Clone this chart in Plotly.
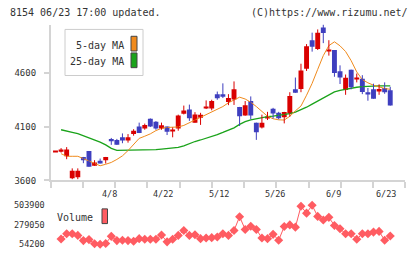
import plotly.graph_objects as go

# ---------------- data ----------------
opens  = [3870, 3867, 3824, 3621, 3630, 3818, 3873, 3736, 3782, 3788,
          3985, 3975, 4000, 3970, 4030, 4100, 4082, 4173, 4145, 4082,
          4100, 4055, 4082, 4218, 4257, 4136, 4182, 4273, 4267, 4400,
          4400, 4327, 4351, 4282, 4203, 4336, 4136, 4091, 4176, 4264,
          4227, 4185, 4221, 4445, 4448, 4636, 4900, 4818, 5018, 4797,
          4809, 4612, 4439, 4627, 4539, 4542, 4418, 4445, 4433, 4457,
          4436]
highs  = [3870, 3900, 3909, 3712, 3712, 3818, 3873, 3788, 3803, 3818,
          3994, 3985, 4036, 4030, 4075, 4136, 4127, 4175, 4150, 4136,
          4100, 4091, 4210, 4294, 4303, 4233, 4227, 4342, 4348, 4424,
          4500, 4400, 4518, 4282, 4336, 4379, 4136, 4210, 4236, 4273,
          4236, 4236, 4418, 4554, 4682, 4864, 4970, 5000, 5045, 4900,
          4809, 4667, 4582, 4627, 4591, 4576, 4457, 4497, 4491, 4509,
          4468]
lows   = [3870, 3858, 3797, 3612, 3612, 3760, 3727, 3736, 3757, 3757,
          3930, 3930, 3945, 3950, 4015, 4039, 4070, 4095, 4070, 4070,
          4021, 4000, 4061, 4212, 4152, 4136, 4115, 4262, 4250, 4348,
          4364, 4298, 4300, 4105, 4200, 4168, 3976, 4082, 4160, 4174,
          4167, 4129, 4191, 4412, 4418, 4615, 4794, 4809, 4873, 4757,
          4561, 4494, 4394, 4445, 4509, 4400, 4339, 4358, 4394, 4403,
          4294]
closes = [3870, 3888, 3888, 3691, 3691, 3788, 3727, 3766, 3757, 3818,
          3964, 3930, 3970, 4000, 4061, 4039, 4115, 4100, 4082, 4112,
          4052, 4070, 4203, 4248, 4176, 4212, 4209, 4279, 4336, 4361,
          4376, 4364, 4445, 4196, 4297, 4203, 4046, 4136, 4191, 4221,
          4176, 4234, 4382, 4413, 4620, 4845, 4839, 4970, 4967, 4809,
          4597, 4554, 4551, 4464, 4554, 4421, 4403, 4358, 4448, 4418,
          4294]

ma5 = [None, 3848, 3824, 3824, 3824, 3803, 3780, 3760, 3736, 3750,
       3767, 3795, 3828, 3877, 3935, 3990, 4010, 4032, 4062, 4083,
       4091, 4093, 4096, 4110, 4135, 4160, 4190, 4210, 4235, 4260,
       4285, 4320, 4350, 4372, 4355, 4325, 4285, 4240, 4195, 4172,
       4162, 4160, 4195, 4245, 4290, 4390, 4500, 4630, 4757, 4850,
       4885, 4848, 4795, 4710, 4606, 4535, 4505, 4483, 4465, 4452,
       4445]
ma25 = [None, 4070, 4055, 4045, 4033, 4015, 3997, 3979, 3955, 3930,
        3897, 3879, 3879, 3879, 3879, 3879, 3879, 3882, 3885, 3890,
        3894, 3897, 3906, 3921, 3942, 3961, 3975, 3990, 4003, 4025,
        4045, 4066, 4088, 4120, 4145, 4162, 4174, 4185, 4192, 4197,
        4204, 4210, 4219, 4234, 4255, 4279, 4307, 4336, 4367, 4396,
        4421, 4436, 4446, 4457, 4464, 4469, 4473, 4474, 4476, 4476,
        4476]

volume = [None, 115000, 175000, 175000, 156000, 96000, 107000, 60000, 54200, 62000,
          145000, 96000, 100000, 96000, 88000, 118000, 111000, 111000, 111000, 160000,
          81000, 111000, 156000, 213000, 156000, 164000, 118000, 126000, 130000, 137000,
          175000, 156000, 213000, 372000, 224000, 262000, 224000, 126000, 118000, 168000,
          100000, 258000, 277000, 251000, 492000, 413000, 503900, 375000, 334000, 364000,
          270000, 232000, 175000, 175000, 111000, 175000, 175000, 194000, 202000, 100000,
          149000]

date_labels = ["4/8", "4/22", "5/12", "5/26", "6/9", "6/23"]
date_label_idx = [10, 20, 30, 40, 50, 60]
price_ticks = [3600, 4100, 4600]
vol_ticks = [54200, 279050, 503900]

# ---------------- styling ----------------
W, H = 420, 259
UP, DOWN = "#d90000", "#3f3fbf"
ORANGE, GREEN = "#f08a1c", "#1aa31a"
VOLC = "#ff5c62"
TXT = "#333333"
AXC = "#d4d4d4"
FONT = "DejaVu Sans Mono"

n = len(opens)
idx = list(range(n))
xr = [-0.86, 62.7]

def px_x(X):
    return X / W

def px_y(Y):
    return 1 - Y / H

price_rng = [3600, 5045.5]
price_per_px = (price_rng[1] - price_rng[0]) / (184 - 25)

fig = go.Figure()

# moving averages
fig.add_trace(go.Scatter(x=idx, y=ma25, mode="lines", line=dict(color=GREEN, width=1.3),
                         hoverinfo="skip", showlegend=False, xaxis="x", yaxis="y"))
fig.add_trace(go.Scatter(x=idx, y=ma5, mode="lines", line=dict(color=ORANGE, width=1.0),
                         hoverinfo="skip", showlegend=False, xaxis="x", yaxis="y"))

# candles: wicks + bodies
for color, is_up in ((UP, True), (DOWN, False)):
    wx, wy = [], []
    bx, bb, bh = [], [], []
    for i in idx:
        up = closes[i] >= opens[i]
        if up != is_up:
            continue
        wx += [i, i, None]
        wy += [lows[i], highs[i], None]
        lo = min(opens[i], closes[i])
        hgt = abs(closes[i] - opens[i])
        if hgt < price_per_px:
            lo = lo - price_per_px / 2
            hgt = price_per_px
        bx.append(i); bb.append(lo); bh.append(hgt)
    fig.add_trace(go.Scatter(x=wx, y=wy, mode="lines", line=dict(color=color, width=1),
                             hoverinfo="skip", showlegend=False, xaxis="x", yaxis="y"))
    fig.add_trace(go.Bar(x=bx, y=bh, base=bb, width=0.88, marker=dict(color=color, line=dict(width=0)),
                         hoverinfo="skip", showlegend=False, xaxis="x", yaxis="y"))

# volume
fig.add_trace(go.Scatter(x=idx, y=volume, mode="lines+markers",
                         line=dict(color=VOLC, width=1),
                         marker=dict(symbol="diamond", size=7, color=VOLC),
                         hoverinfo="skip", showlegend=False, xaxis="x2", yaxis="y2"))

# volume axis range
vol_per_px = (vol_ticks[2] - vol_ticks[0]) / (249 - 209.3)
vol_rng = [vol_ticks[0] - (255 - 249) * vol_per_px, vol_ticks[2] + (209.3 - 200) * vol_per_px]

dom_x = [px_x(50.7), px_x(405.3)]
n_div = 11
xtick_pos = [xr[0] + (xr[1] - xr[0]) * k / n_div for k in range(n_div + 1)]

fig.update_layout(
    width=W, height=H, margin=dict(l=0, r=0, t=0, b=0),
    paper_bgcolor="white", plot_bgcolor="white",
    barmode="overlay", showlegend=False,
    font=dict(family=FONT, color=TXT, size=9),
    xaxis=dict(domain=dom_x, range=xr, anchor="y", showgrid=False, zeroline=False,
               showline=True, linecolor=AXC, linewidth=1.5,
               tickvals=xtick_pos, ticktext=[""] * len(xtick_pos),
               ticks="outside", ticklen=6, tickcolor=AXC, tickwidth=1.5),
    yaxis=dict(domain=[px_y(184), px_y(25)], range=price_rng, anchor="x", showgrid=False, zeroline=False,
               showline=True, linecolor=AXC, linewidth=1.5,
               tickvals=price_ticks, ticktext=[str(v) for v in price_ticks],
               ticks="outside", ticklen=5, tickcolor=AXC, tickwidth=1.5,
               ticklabelstandoff=6, tickfont=dict(size=9, family=FONT, color=TXT)),
    xaxis2=dict(domain=dom_x, range=xr, anchor="y2", visible=False),
    yaxis2=dict(domain=[px_y(255), px_y(200)], range=vol_rng, anchor="x2", showgrid=False,
                zeroline=False, showline=False, ticks="",
                tickvals=vol_ticks, ticktext=[str(v) for v in vol_ticks],
                ticklabelstandoff=5, tickfont=dict(size=8.5, family=FONT, color=TXT)),
)

ann = []
ann.append(dict(text="8154 06/23 17:00 updated.", x=px_x(8), y=px_y(13), xref="paper", yref="paper",
                xanchor="left", yanchor="middle", showarrow=False, font=dict(size=10, family=FONT, color=TXT)))
ann.append(dict(text="(C)https://www.rizumu.net/", x=px_x(410), y=px_y(13), xref="paper", yref="paper",
                xanchor="right", yanchor="middle", showarrow=False, font=dict(size=10, family=FONT, color=TXT)))
for lab, k in zip(date_labels, date_label_idx):
    ann.append(dict(text=lab, x=k + 1.45, y=px_y(198), xref="x", yref="paper",
                    xanchor="right", yanchor="middle", showarrow=False,
                    font=dict(size=8.5, family=FONT, color=TXT)))
# legend texts
ann.append(dict(text="5-day MA", x=px_x(126), y=px_y(46), xref="paper", yref="paper",
                xanchor="right", yanchor="middle", showarrow=False, font=dict(size=10, family=FONT, color=TXT)))
ann.append(dict(text="25-day MA", x=px_x(126), y=px_y(63), xref="paper", yref="paper",
                xanchor="right", yanchor="middle", showarrow=False, font=dict(size=10, family=FONT, color=TXT)))
ann.append(dict(text="Volume", x=px_x(95), y=px_y(222), xref="paper", yref="paper",
                xanchor="right", yanchor="middle", showarrow=False, font=dict(size=10, family=FONT, color=TXT)))

shapes = []
shapes.append(dict(type="rect", xref="paper", yref="paper", x0=px_x(65), x1=px_x(143), y0=px_y(77), y1=px_y(30),
                   line=dict(color="#cccccc", width=1), fillcolor="white", layer="above"))
shapes.append(dict(type="rect", xref="paper", yref="paper", x0=px_x(131), x1=px_x(137), y0=px_y(52), y1=px_y(37),
                   line=dict(color="#444444", width=1), fillcolor=ORANGE, layer="above"))
shapes.append(dict(type="rect", xref="paper", yref="paper", x0=px_x(131), x1=px_x(137), y0=px_y(69), y1=px_y(54),
                   line=dict(color="#444444", width=1), fillcolor=GREEN, layer="above"))
shapes.append(dict(type="rect", xref="paper", yref="paper", x0=px_x(102), x1=px_x(107.5), y0=px_y(228), y1=px_y(213),
                   line=dict(color="#444444", width=1), fillcolor=VOLC, layer="above"))

fig.update_layout(annotations=ann, shapes=shapes)
fig.write_html("out.html")
